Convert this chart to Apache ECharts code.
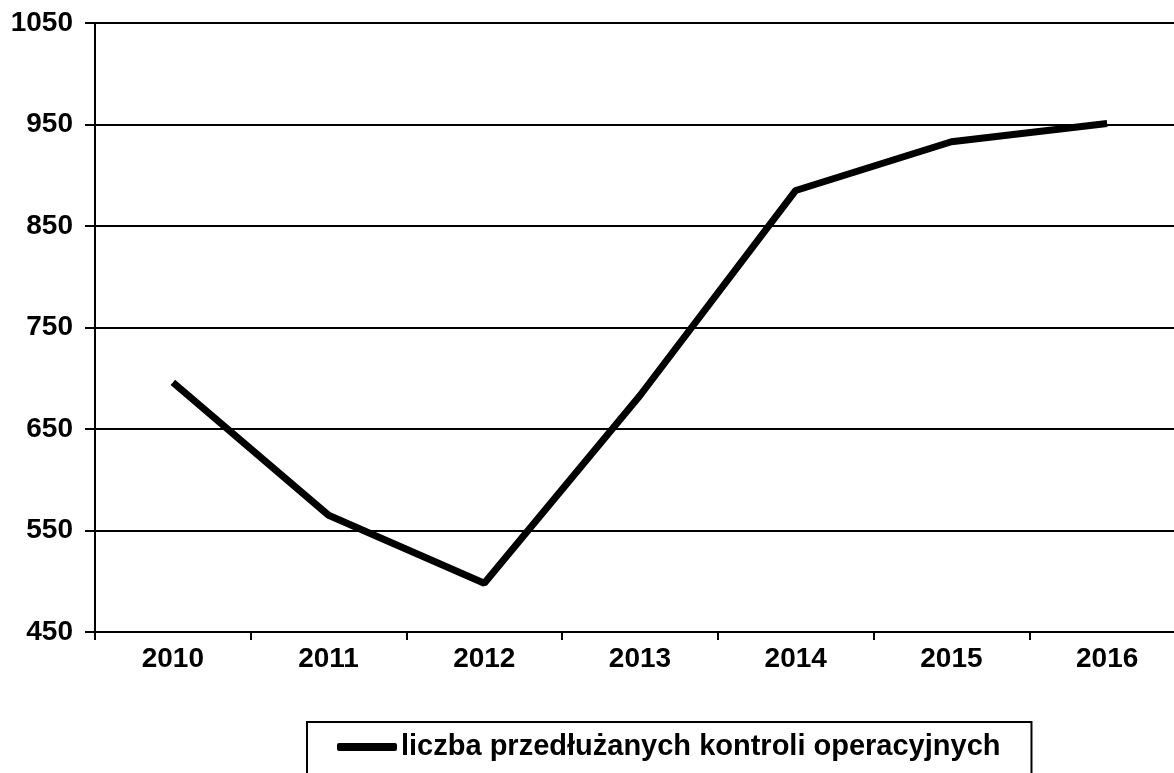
<!DOCTYPE html>
<html>
<head>
<meta charset="utf-8">
<script src="https://cdn.jsdelivr.net/npm/echarts@6/dist/echarts.min.js"></script>
<style>html,body{margin:0;padding:0;background:#fff;}#c{width:1174px;height:773px;}</style>
</head>
<body>
<div id="c"></div>
<script>
const years = ['2010', '2011', '2012', '2013', '2014', '2015', '2016'];
const values = [696, 565, 498, 683, 885, 933, 951];
const seriesName = 'liczba przedłużanych kontroli operacyjnych';
const yMin = 450, yMax = 1050, yStep = 100;

const chart = echarts.init(document.getElementById('c'), null, {renderer: 'canvas'});
const font = 'Liberation Sans, Arial, sans-serif';
chart.setOption({
  animation: false,
  backgroundColor: '#fff',
  grid: {left: 95, top: 23, width: 1090, bottom: 141, containLabel: false, outerBoundsMode: 'none'},
  xAxis: {
    type: 'category', data: years, boundaryGap: true,
    axisLine: {lineStyle: {color: '#000', width: 2}},
    axisTick: {show: true, length: 8, lineStyle: {color: '#000', width: 2}},
    axisLabel: {color: '#000', fontFamily: font, fontWeight: 'bold', fontSize: 28, margin: 13}
  },
  yAxis: {
    type: 'value', min: yMin, max: yMax, interval: yStep,
    axisLine: {show: true, lineStyle: {color: '#000', width: 2}},
    axisTick: {show: true, length: 10, lineStyle: {color: '#000', width: 2}},
    axisLabel: {color: '#000', fontFamily: font, fontWeight: 'bold', fontSize: 28, margin: 22,
      formatter: function (v) { return String(v); }},
    splitLine: {show: true, lineStyle: {color: '#000', width: 2}}
  },
  legend: {
    left: 307, top: 722,
    data: [{name: seriesName, icon: 'roundRect'}],
    itemWidth: 60, itemHeight: 8, itemGap: 0,
    padding: [10, 31, 40, 30],
    borderColor: '#000', borderWidth: 2, borderRadius: 0,
    textStyle: {color: '#000', fontFamily: font, fontWeight: 'bold', fontSize: 29, lineHeight: 30, padding: [0, 0, 0, -1]}
  },
  series: [{
    name: seriesName, type: 'line', data: values,
    symbol: 'none', lineStyle: {color: '#000', width: 7},
    itemStyle: {color: '#000'}
  }]
});
</script>
</body>
</html>
